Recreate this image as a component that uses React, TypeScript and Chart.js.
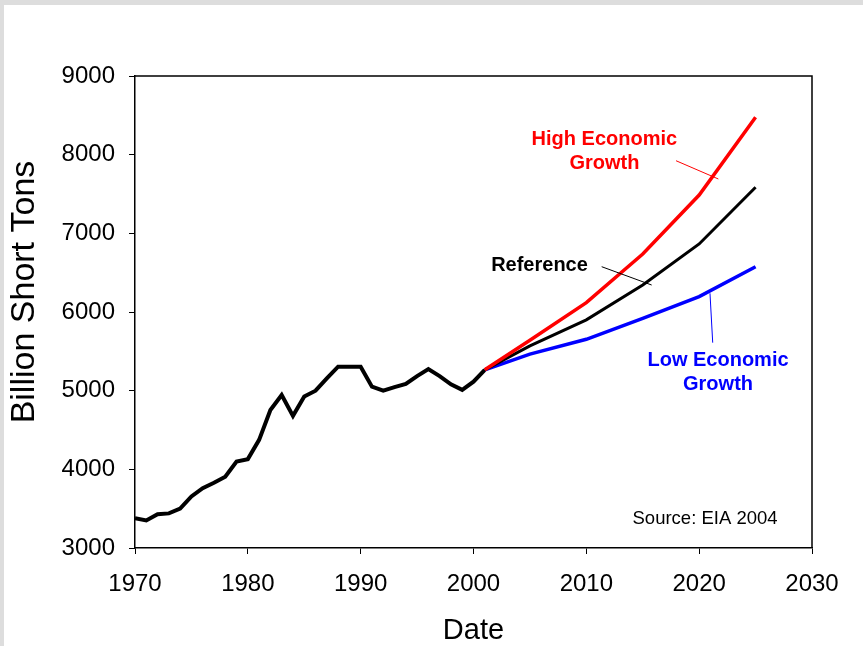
import React, { useEffect, useRef } from "react";
import { Chart, registerables } from "chart.js";

Chart.register(...registerables);

const historyYears = [1970, 1971, 1972, 1973, 1974, 1975, 1976, 1977, 1978, 1979, 1980, 1981, 1982, 1983, 1984, 1985, 1986, 1987, 1988, 1989, 1990, 1991, 1992, 1993, 1994, 1995, 1996, 1997, 1998, 1999, 2000, 2001];
const historyValues = [3380, 3350, 3430, 3440, 3500, 3655, 3760, 3830, 3905, 4100, 4130, 4375, 4755, 4945, 4680, 4925, 5000, 5155, 5305, 5305, 5305, 5050, 5000, 5045, 5085, 5185, 5275, 5185, 5080, 5010, 5115, 5265];

const projectionYears = [2001, 2005, 2010, 2015, 2020, 2025];
const referenceValues = [5265, 5570, 5900, 6343, 6865, 7585];
const highGrowthValues = [5265, 5640, 6119, 6737, 7487, 8475];
const lowGrowthValues = [5265, 5465, 5653, 5920, 6195, 6576];

const xTickValues = [1970, 1980, 1990, 2000, 2010, 2020, 2030];
const yTickValues = [3000, 4000, 5000, 6000, 7000, 8000, 9000];

const yAxisTitle = "Billion Short Tons";
const xAxisTitle = "Date";
const highLabel = ["High Economic", "Growth"];
const referenceLabel = ["Reference"];
const lowLabel = ["Low Economic", "Growth"];
const sourceLabel = "Source: EIA 2004";

const FONT = "'Liberation Sans', Arial, Helvetica, sans-serif";

const toPoints = (xs: number[], ys: number[]) => xs.map((x, i) => ({ x, y: ys[i] }));

export default function App() {
  const canvasRef = useRef<HTMLCanvasElement | null>(null);

  useEffect(() => {
    const canvas = canvasRef.current;
    if (!canvas) return;

    const annotations = [
      { lines: highLabel, color: "#ff0000", x: 2011.6, y: 8199, lead: [2017.95, 7923, 2021.7, 7691] },
      { lines: referenceLabel, color: "#000000", x: 2005.85, y: 6597, lead: [2011.36, 6576, 2015.79, 6343] },
      { lines: lowLabel, color: "#0000ff", x: 2021.67, y: 5390, lead: [2020.96, 6238, 2021.2, 5610] },
    ];

    const overlay = {
      id: "overlay",
      afterDatasetsDraw(chart: any) {
        const { ctx, chartArea, scales } = chart;
        const xs = scales.x;
        const ys = scales.y;
        ctx.save();
        // box border (top and right)
        ctx.strokeStyle = "#000";
        ctx.lineWidth = 1.5;
        ctx.beginPath();
        ctx.moveTo(chartArea.left, chartArea.top);
        ctx.lineTo(chartArea.right, chartArea.top);
        ctx.lineTo(chartArea.right, chartArea.bottom);
        ctx.stroke();

        ctx.textAlign = "center";
        ctx.textBaseline = "middle";
        ctx.font = `bold 20px ${FONT}`;
        for (const a of annotations) {
          ctx.fillStyle = a.color;
          const px = xs.getPixelForValue(a.x);
          const py = ys.getPixelForValue(a.y);
          a.lines.forEach((t, i) => ctx.fillText(t, px, py + i * 24));
          ctx.strokeStyle = a.color;
          ctx.lineWidth = 1;
          ctx.beginPath();
          ctx.moveTo(xs.getPixelForValue(a.lead[0]), ys.getPixelForValue(a.lead[1]));
          ctx.lineTo(xs.getPixelForValue(a.lead[2]), ys.getPixelForValue(a.lead[3]));
          ctx.stroke();
        }
        ctx.fillStyle = "#000";
        ctx.font = `18.5px ${FONT}`;
        ctx.fillText(sourceLabel, xs.getPixelForValue(2020.52), ys.getPixelForValue(3375));

        // y-axis title
        ctx.font = `34px ${FONT}`;
        ctx.translate(21, ys.getPixelForValue(6254));
        ctx.rotate(-Math.PI / 2);
        ctx.fillText(yAxisTitle, 0, 0);
        ctx.restore();
      },
    };

    const chart = new Chart(canvas, {
      type: "line",
      data: {
        datasets: [
          {
            label: "High Economic Growth",
            data: toPoints(projectionYears, highGrowthValues),
            borderColor: "#ff0000",
            borderWidth: 3.5,
            pointRadius: 0,
            tension: 0,
            order: 0,
          },
          {
            label: "Reference",
            data: toPoints(projectionYears, referenceValues),
            borderColor: "#000000",
            borderWidth: 3,
            pointRadius: 0,
            tension: 0,
            order: 1,
          },
          {
            label: "Low Economic Growth",
            data: toPoints(projectionYears, lowGrowthValues),
            borderColor: "#0000ff",
            borderWidth: 3.5,
            pointRadius: 0,
            tension: 0,
            order: 2,
          },
          {
            label: "History",
            data: toPoints(historyYears, historyValues),
            borderColor: "#000000",
            borderWidth: 4,
            pointRadius: 0,
            tension: 0,
            order: 3,
          },
        ],
      },
      options: {
        responsive: false,
        animation: false,
        events: [],
        layout: { padding: { top: 71, right: 51, left: 0, bottom: 0 } },
        plugins: { legend: { display: false }, tooltip: { enabled: false } },
        scales: {
          x: {
            type: "linear",
            min: 1970,
            max: 2030,
            afterFit: (s: any) => {
              s.height = 98;
            },
            afterBuildTicks: (s: any) => {
              s.ticks = xTickValues.map((v) => ({ value: v }));
            },
            ticks: {
              color: "#000",
              padding: 16,
              maxRotation: 0,
              font: { family: FONT, size: 24 },
              callback: (v: any) => String(v),
            },
            grid: { display: true, drawOnChartArea: false, drawTicks: true, tickLength: 6, color: "#000", lineWidth: 1 },
            border: { display: true, color: "#000", width: 1.5 },
            title: {
              display: true,
              text: xAxisTitle,
              color: "#000",
              font: { family: FONT, size: 29 },
              padding: { top: 0, bottom: -2 },
            },
          },
          y: {
            type: "linear",
            min: 3000,
            max: 9000,
            afterFit: (s: any) => {
              s.width = 131;
            },
            afterBuildTicks: (s: any) => {
              s.ticks = yTickValues.map((v) => ({ value: v }));
            },
            ticks: {
              color: "#000",
              padding: 14,
              font: { family: FONT, size: 24 },
              callback: (v: any) => String(v),
            },
            grid: { display: true, drawOnChartArea: false, drawTicks: true, tickLength: 6, color: "#000", lineWidth: 1 },
            border: { display: true, color: "#000", width: 1.5 },
            title: { display: false },
          },
        },
      },
      plugins: [overlay],
    } as any);

    return () => chart.destroy();
  }, []);

  return (
    <div style={{ position: "fixed", left: 0, top: 0, width: 863, height: 646, background: "#dddddd", overflow: "hidden" }}>
      <div style={{ position: "absolute", left: 4, top: 5, width: 859, height: 641, background: "#ffffff" }}>
        <canvas ref={canvasRef} width={859} height={641} style={{ display: "block", width: 859, height: 641 }} />
      </div>
    </div>
  );
}
